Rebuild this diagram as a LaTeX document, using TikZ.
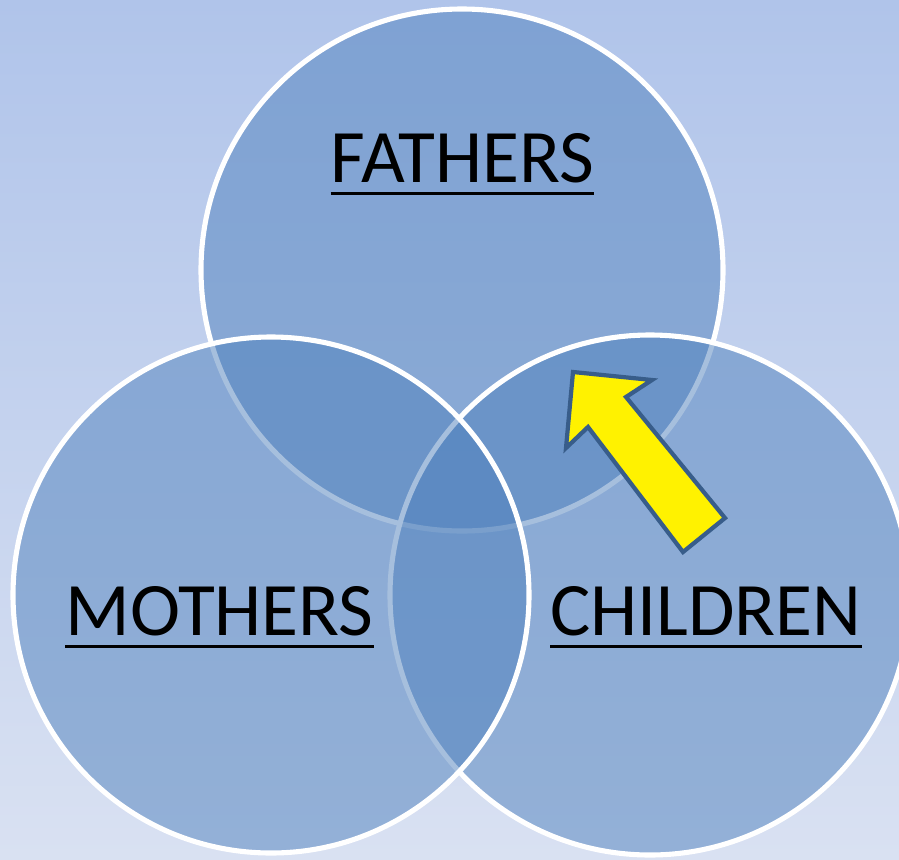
\documentclass[tikz,border=0pt]{standalone}
\usepackage{fontspec}
\setmainfont{Carlito}
\definecolor{setblue}{HTML}{4F81BD}
\definecolor{arrowline}{HTML}{385D8A}
\definecolor{bgtop}{HTML}{B0C4EA}
\definecolor{bgbottom}{HTML}{D9E1F2}
\newcommand{\ulword}[1]{\leavevmode\vtop{\hbox{#1}\kern5.2pt\hrule height 1.9pt}}
\tikzset{
  setcircle/.style={draw=white, line width=2.9pt, fill=setblue, fill opacity=0.5, draw opacity=1},
  setlabel/.style={anchor=base, inner sep=0pt, font=\fontsize{43}{51}\selectfont, text=black}
}
\begin{document}
\begin{tikzpicture}[x=0.02cm, y=-0.02cm]
  % background
  \shade[top color=bgtop, bottom color=bgbottom] (0,0) rectangle (899,859);
  \useasboundingbox (0,0) rectangle (899,859);
  % the three sets
  \path[setcircle] (462,270) circle[radius=261];
  \path[setcircle] (650,595) circle[radius=260];
  \path[setcircle] (271,595) circle[radius=258];
  % labels
  \node[setlabel] (fathers) at (462.5,182) {\ulword{FATHERS}};
  \node[setlabel] (mothers) at (219.5,635) {\ulword{MOTHERS}};
  \node[setlabel] (children) at (706,635) {\ulword{CHILDREN}};
  % pointer
  \draw[fill=yellow, draw=arrowline, line width=2.4pt, line join=miter]
    (573,372) -- (652,380) -- (626,397) -- (725,518) -- (683,552)
    -- (588,427) -- (566,448) -- cycle;
\end{tikzpicture}
\end{document}
